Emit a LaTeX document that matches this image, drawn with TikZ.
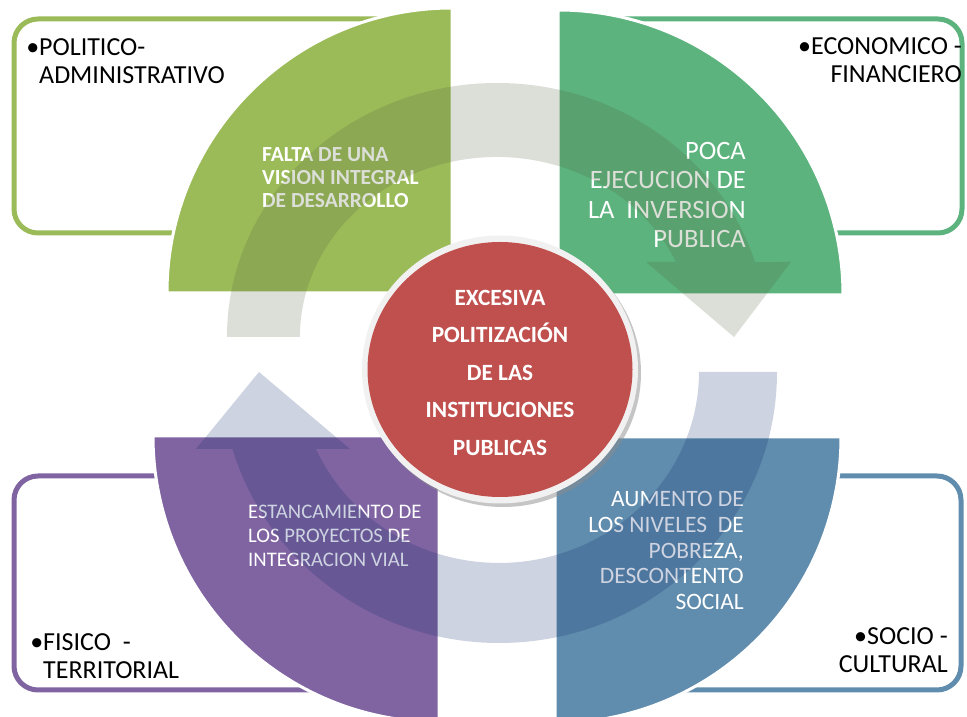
\documentclass[tikz,border=0pt]{standalone}
\usepackage{fontspec}
\setmainfont{Carlito}
\definecolor{vertOlive}{RGB}{155,187,89}
\definecolor{vertEco}{RGB}{92,179,126}
\definecolor{violetFis}{RGB}{128,100,162}
\definecolor{bleuSoc}{RGB}{96,140,173}
\definecolor{rougeCentre}{RGB}{192,80,77}
\definecolor{grisHaut}{RGB}{80,95,55}
\definecolor{grisBas}{RGB}{5,35,100}
\definecolor{anneau}{RGB}{241,241,241}
\tikzset{
  boite/.style={draw=#1, fill=white, rounded corners=24pt, line width=5pt},
  quart/.style={fill=#1, draw=white, line width=3pt},
  fleche/.style={fill=#1, opacity=0.2},
  etiquette/.style={inner sep=0pt, text=black, font=\fontsize{26}{28.5}\selectfont},
  texteQuart/.style={inner sep=0pt, text=white}
}
\begin{document}
\begin{tikzpicture}[x=1pt,y=1pt]
\fill[white] (0,0) rectangle (967,717);
\useasboundingbox (0,0) rectangle (967,717);
\draw[boite=vertOlive] (14,698) rectangle (440,484); %Boite haut gauche
\draw[boite=vertEco] (570,698) rectangle (962,484); %Boite haut droite
\draw[boite=violetFis] (14,241) rectangle (428,27); %Boite bas gauche
\draw[boite=bleuSoc] (567,241) rectangle (961,27); %Boite bas droite
\draw[quart=vertOlive] (452,424) -- (452,709) arc[start angle=90, end angle=180, radius=285] -- cycle; %Quart haut gauche
\draw[quart=vertEco] (558,422) -- (843,422) arc[start angle=0, end angle=90, radius=285] -- cycle; %Quart haut droite
\draw[quart=violetFis] (439,281) -- (153,281) arc[start angle=180, end angle=270, radius=286] -- cycle; %Quart bas gauche
\draw[quart=bleuSoc] (555,280) -- (555,-6) arc[start angle=270, end angle=360, radius=286] -- cycle; %Quart bas droite
\node[texteQuart, anchor=north west, align=left, font=\bfseries\fontsize{21.5}{23.3}\selectfont] (falta) at (262,570) {FALTA DE UNA\\VISION INTEGRAL\\DE DESARROLLO};
\node[texteQuart, anchor=north east, align=right, font=\fontsize{26.5}{29.4}\selectfont] (poca) at (746,575) {POCA\\EJECUCION DE\\LA\ \ INVERSION\\PUBLICA};
\node[texteQuart, anchor=north west, align=left, font=\fontsize{20.7}{23.7}\selectfont] (estanc) at (248,212) {ESTANCAMIENTO DE\\LOS PROYECTOS DE\\INTEGRACION VIAL};
\node[texteQuart, anchor=north east, align=right, font=\fontsize{23.5}{25.8}\selectfont] (aumento) at (744,226) {AUMENTO DE\\LOS NIVELES\ \ DE\\POBREZA,\\DESCONTENTO\\SOCIAL};
\fill[fleche=grisHaut] (227,380) arc[start angle=180, end angle=17.17, x radius=270, y radius=254] -- (791,455) -- (734,380) -- (646,455) -- (676,455) arc[start angle=24.62, end angle=180, x radius=197, y radius=180] -- cycle; %Fleche haut
\fill[fleche=grisBas] (777,345) arc[start angle=0, end angle=-163.5, x radius=278, y radius=271] -- (196,268) -- (259,345) -- (350,268) -- (316,268) arc[start angle=-156.2, end angle=0, x radius=200, y radius=191] -- cycle; %Fleche bas
\fill[black!45, opacity=0.5] (503,344) ellipse[x radius=138, y radius=134]; %Ombre
\fill[anneau] (500,347.5) ellipse[x radius=138, y radius=134];
\fill[rougeCentre] (500,347.5) ellipse[x radius=132.5, y radius=127.5]; %Cercle central
\node[texteQuart, anchor=north, align=center, font=\bfseries\fontsize{23.3}{37.5}\selectfont] (centre) at (500,427) {EXCESIVA\\POLITIZACIÓN\\DE LAS\\INSTITUCIONES\\PUBLICAS};
\node[etiquette, anchor=north west, align=left] (politico) at (39,679) {\llap{•}POLITICO-\\ADMINISTRATIVO};
\node[etiquette, anchor=north east, align=right] (economico) at (962,680) {•ECONOMICO -\\FINANCIERO};
\node[etiquette, anchor=north west, align=left] (fisico) at (43,84) {\llap{•}FISICO\ \ -\\TERRITORIAL};
\node[etiquette, anchor=north east, align=right] (socio) at (948,90) {•SOCIO -\\CULTURAL};
\end{tikzpicture}
\end{document}
